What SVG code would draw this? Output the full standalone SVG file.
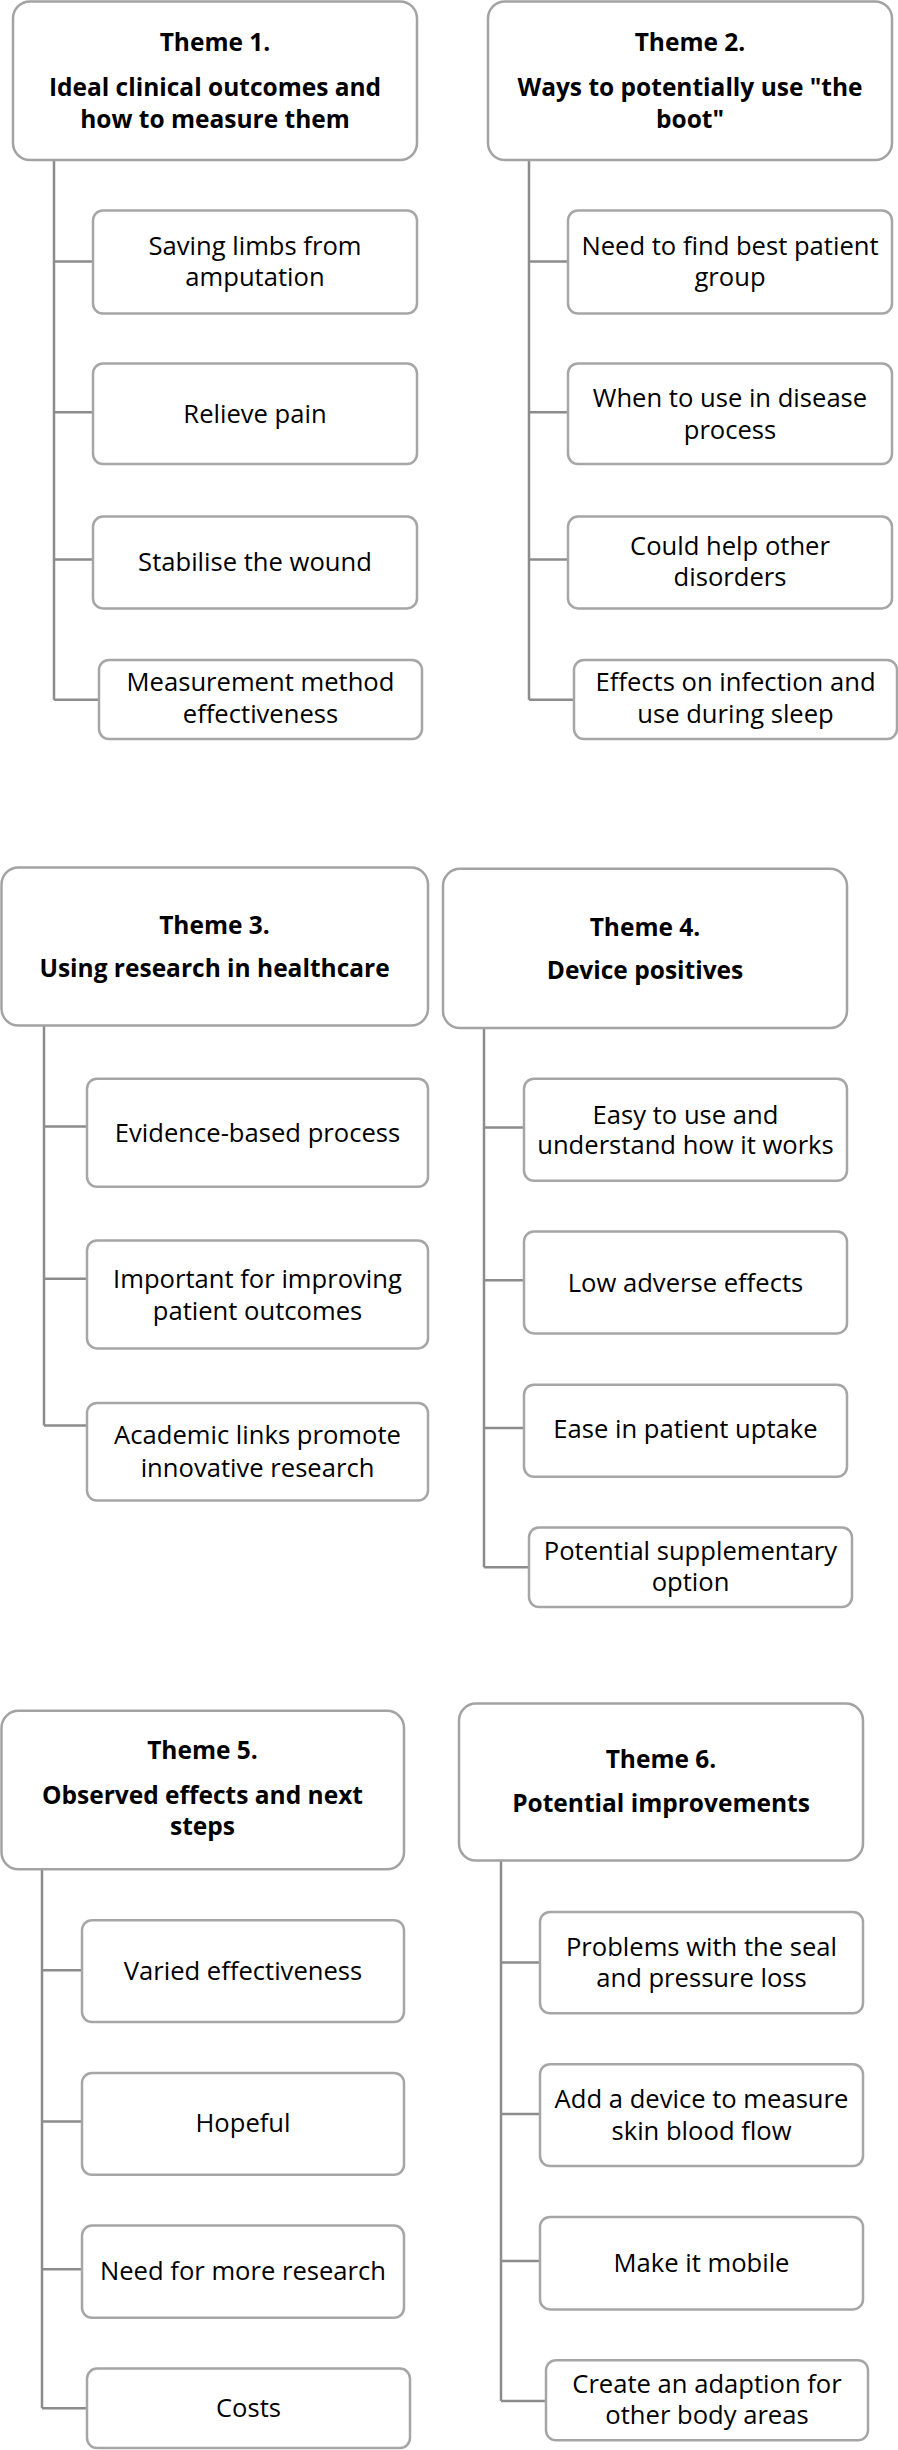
<svg xmlns="http://www.w3.org/2000/svg" width="898" height="2450" viewBox="0 0 898 2450">
<style>
.bg{fill:#ffffff}
.tb{fill:#ffffff;stroke:#a3a3a3;stroke-width:2.5}
.cb{fill:#ffffff;stroke:#a6a6a6;stroke-width:2.5}
.conn{fill:none;stroke:#8c8c8c;stroke-width:2.5}
.tt{font-family:"Open Sans","Liberation Sans",sans-serif;font-weight:bold;font-size:24.5px;fill:#000;text-anchor:middle}
.ct{font-family:"Open Sans","Liberation Sans",sans-serif;font-size:25.6px;fill:#000;text-anchor:middle}
</style>
<rect class="bg" x="0" y="0" width="898" height="2450"/>

<g id="connectors">
  <!-- Theme 1 -->
  <path class="conn" d="M54 160 V699.8 M54 261.6 H93 M54 412.3 H93 M54 559.6 H93 M54 699.8 H99"/>
  <!-- Theme 2 -->
  <path class="conn" d="M529 160 V699.8 M529 261.6 H568 M529 412.3 H568 M529 559.6 H568 M529 699.8 H574"/>
  <!-- Theme 3 -->
  <path class="conn" d="M44 1025.5 V1425.5 M44 1126.5 H87 M44 1278.7 H87 M44 1425.5 H87"/>
  <!-- Theme 4 -->
  <path class="conn" d="M484 1028 V1567.2 M484 1127.5 H524 M484 1280.2 H524 M484 1428 H524 M484 1567.2 H529"/>
  <!-- Theme 5 -->
  <path class="conn" d="M42 1869.3 V2408.3 M42 1970.2 H82 M42 2121.4 H82 M42 2269.2 H82 M42 2408.3 H87"/>
  <!-- Theme 6 -->
  <path class="conn" d="M501 1860.6 V2401 M501 1962.4 H540 M501 2114.1 H540 M501 2261 H540 M501 2401 H546"/>
</g>

<!-- Theme 1 -->
<g id="theme1">
  <rect class="tb" x="13" y="1.5" width="404" height="158.5" rx="17"/>
  <text class="tt" x="215" y="50.5">Theme 1.</text>
  <text class="tt" x="215" y="95.5">Ideal clinical outcomes and</text>
  <text class="tt" x="215" y="127.5">how to measure them</text>
</g>
<g id="t1c1">
  <rect class="cb" x="93" y="210.5" width="324" height="103" rx="10"/>
  <text class="ct" x="255" y="254.5">Saving limbs from</text>
  <text class="ct" x="255" y="286">amputation</text>
</g>
<g id="t1c2">
  <rect class="cb" x="93" y="363.5" width="324" height="100.5" rx="10"/>
  <text class="ct" x="255" y="423">Relieve pain</text>
</g>
<g id="t1c3">
  <rect class="cb" x="93" y="516.6" width="324" height="91.8" rx="10"/>
  <text class="ct" x="255" y="570.6">Stabilise the wound</text>
</g>
<g id="t1c4">
  <rect class="cb" x="99" y="660" width="323" height="79" rx="10"/>
  <text class="ct" x="260.5" y="691">Measurement method</text>
  <text class="ct" x="260.5" y="723">effectiveness</text>
</g>

<!-- Theme 2 -->
<g id="theme2">
  <rect class="tb" x="488" y="1.5" width="404" height="158.5" rx="17"/>
  <text class="tt" x="690" y="50.5">Theme 2.</text>
  <text class="tt" x="690" y="95.5">Ways to potentially use "the</text>
  <text class="tt" x="690" y="127.5">boot"</text>
</g>
<g id="t2c1">
  <rect class="cb" x="568" y="210.5" width="324" height="103" rx="10"/>
  <text class="ct" x="730" y="254.5">Need to find best patient</text>
  <text class="ct" x="730" y="286">group</text>
</g>
<g id="t2c2">
  <rect class="cb" x="568" y="363.5" width="324" height="100.5" rx="10"/>
  <text class="ct" x="730" y="406.6">When to use in disease</text>
  <text class="ct" x="730" y="438.6">process</text>
</g>
<g id="t2c3">
  <rect class="cb" x="568" y="516.6" width="324" height="91.8" rx="10"/>
  <text class="ct" x="730" y="554.8">Could help other</text>
  <text class="ct" x="730" y="586">disorders</text>
</g>
<g id="t2c4">
  <rect class="cb" x="574" y="660" width="323" height="79" rx="10"/>
  <text class="ct" x="735.5" y="691">Effects on infection and</text>
  <text class="ct" x="735.5" y="723">use during sleep</text>
</g>

<!-- Theme 3 -->
<g id="theme3">
  <rect class="tb" x="1.5" y="867.4" width="426.5" height="158.1" rx="17"/>
  <text class="tt" x="214.5" y="933.5">Theme 3.</text>
  <text class="tt" x="214.5" y="976.8">Using research in healthcare</text>
</g>
<g id="t3c1">
  <rect class="cb" x="87" y="1078.8" width="341" height="107.9" rx="10"/>
  <text class="ct" x="257.5" y="1142">Evidence-based process</text>
</g>
<g id="t3c2">
  <rect class="cb" x="87" y="1240.4" width="341" height="108" rx="10"/>
  <text class="ct" x="257.5" y="1287.7">Important for improving</text>
  <text class="ct" x="257.5" y="1320">patient outcomes</text>
</g>
<g id="t3c3">
  <rect class="cb" x="87" y="1403" width="341" height="97.6" rx="10"/>
  <text class="ct" x="257.5" y="1444.3">Academic links promote</text>
  <text class="ct" x="257.5" y="1476.7">innovative research</text>
</g>

<!-- Theme 4 -->
<g id="theme4">
  <rect class="tb" x="443" y="868.8" width="404" height="159.2" rx="17"/>
  <text class="tt" x="645" y="935.5">Theme 4.</text>
  <text class="tt" x="645" y="979.3">Device positives</text>
</g>
<g id="t4c1">
  <rect class="cb" x="524" y="1078.8" width="323" height="101.9" rx="10"/>
  <text class="ct" x="685.5" y="1123.5">Easy to use and</text>
  <text class="ct" x="685.5" y="1154.4">understand how it works</text>
</g>
<g id="t4c2">
  <rect class="cb" x="524" y="1231.5" width="323" height="101.9" rx="10"/>
  <text class="ct" x="685.5" y="1291.6">Low adverse effects</text>
</g>
<g id="t4c3">
  <rect class="cb" x="524" y="1384.7" width="323" height="92" rx="10"/>
  <text class="ct" x="685.5" y="1438.4">Ease in patient uptake</text>
</g>
<g id="t4c4">
  <rect class="cb" x="529" y="1527.4" width="323" height="79.6" rx="10"/>
  <text class="ct" x="690.5" y="1560.2">Potential supplementary</text>
  <text class="ct" x="690.5" y="1591">option</text>
</g>

<!-- Theme 5 -->
<g id="theme5">
  <rect class="tb" x="1.5" y="1710.8" width="402.5" height="158.5" rx="17"/>
  <text class="tt" x="202.5" y="1759.3">Theme 5.</text>
  <text class="tt" x="202.5" y="1803.9">Observed effects and next</text>
  <text class="tt" x="202.5" y="1835.4">steps</text>
</g>
<g id="t5c1">
  <rect class="cb" x="82" y="1920.2" width="322" height="101.8" rx="10"/>
  <text class="ct" x="243" y="1979.9">Varied effectiveness</text>
</g>
<g id="t5c2">
  <rect class="cb" x="82" y="2073" width="322" height="101.7" rx="10"/>
  <text class="ct" x="243" y="2132">Hopeful</text>
</g>
<g id="t5c3">
  <rect class="cb" x="82" y="2225.6" width="322" height="92.1" rx="10"/>
  <text class="ct" x="243" y="2280.4">Need for more research</text>
</g>
<g id="t5c4">
  <rect class="cb" x="87" y="2368.6" width="323" height="79.4" rx="10"/>
  <text class="ct" x="248.5" y="2417">Costs</text>
</g>

<!-- Theme 6 -->
<g id="theme6">
  <rect class="tb" x="459" y="1703.6" width="404" height="157" rx="17"/>
  <text class="tt" x="661" y="1767.6">Theme 6.</text>
  <text class="tt" x="661" y="1812.1">Potential improvements</text>
</g>
<g id="t6c1">
  <rect class="cb" x="540" y="1912" width="323" height="101.3" rx="10"/>
  <text class="ct" x="701.5" y="1955.6">Problems with the seal</text>
  <text class="ct" x="701.5" y="1986.6">and pressure loss</text>
</g>
<g id="t6c2">
  <rect class="cb" x="540" y="2064.2" width="323" height="101.8" rx="10"/>
  <text class="ct" x="701.5" y="2107.8">Add a device to measure</text>
  <text class="ct" x="701.5" y="2139.8">skin blood flow</text>
</g>
<g id="t6c3">
  <rect class="cb" x="540" y="2216.9" width="323" height="92.5" rx="10"/>
  <text class="ct" x="701.5" y="2271.6">Make it mobile</text>
</g>
<g id="t6c4">
  <rect class="cb" x="546" y="2360.3" width="322" height="80" rx="10"/>
  <text class="ct" x="707" y="2392.8">Create an adaption for</text>
  <text class="ct" x="707" y="2424.3">other body areas</text>
</g>
</svg>
